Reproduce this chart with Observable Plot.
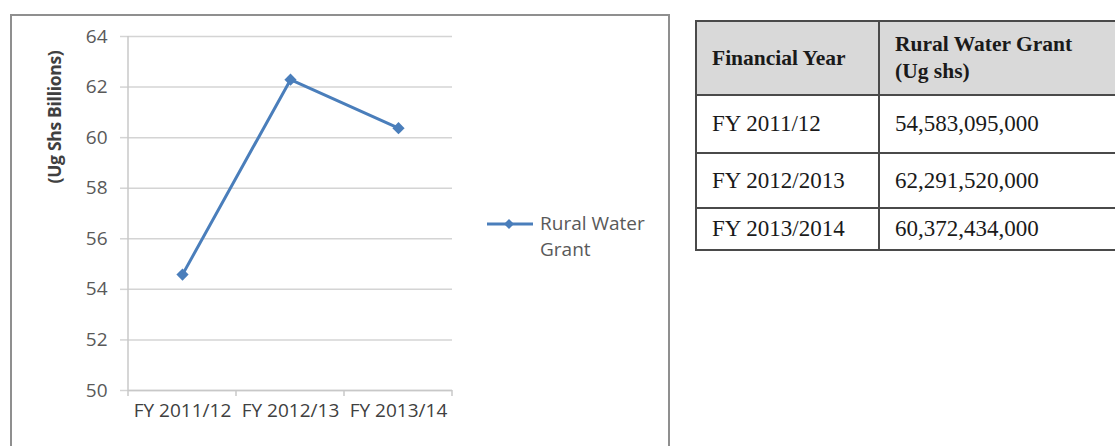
<!DOCTYPE html>
<html><head><meta charset="utf-8">
<script src="https://cdn.jsdelivr.net/npm/d3@7"></script>
<script src="https://cdn.jsdelivr.net/npm/@observablehq/plot@0.6"></script>
<style>
body{margin:0;background:#fff;width:1115px;height:446px;overflow:hidden;position:relative;font-family:"Open Sans",sans-serif}
#chart{position:absolute;left:10px;top:14px;width:656px;height:440px;border:2px solid #8f8f8f;border-bottom:none}
#chart svg{position:absolute;left:0;top:0}
#ytitle{position:absolute;left:42px;top:101px;transform:translate(-50%,-50%) rotate(-90deg);white-space:nowrap;font-weight:bold;font-size:17.5px;color:#404040;letter-spacing:-0.3px}
#legend{position:absolute;left:475px;top:195px;display:flex;align-items:flex-start;font-size:19px;color:#595959;line-height:26px}
#legend svg{position:static;margin-top:2px}
table{position:absolute;left:695px;top:20px;border-collapse:collapse;font-family:"Liberation Serif",serif;font-size:23px;color:#1a1a1a;table-layout:fixed;width:450px}
td,th{border:2px solid #4a4a4a;padding:0 0 0 15px;text-align:left;vertical-align:middle}
th{background:#d9d9d9;font-weight:bold;font-size:21.5px;line-height:27px;height:72px}
</style></head>
<body>
<div id="chart"><div id="ytitle">(Ug Shs Billions)</div>
<div id="legend"><svg width="48" height="22"><line x1="0" x2="46" y1="11" y2="11" stroke="#4a7ebb" stroke-width="3"/><polygon points="22,6 27,11 22,16 17,11" fill="#4a7ebb"/></svg><div style="margin-left:5px;margin-top:-1px">Rural Water<br>Grant</div></div>
</div>
<table id="tbl"><colgroup><col style="width:183px"><col></colgroup></table>
<script>
const years = ["FY 2011/12", "FY 2012/13", "FY 2013/14"];
const grant = [54.583095, 62.29152, 60.372434];
const yTicks = [50, 52, 54, 56, 58, 60, 62, 64];
const tableHeaders = ["Financial Year", "Rural Water Grant<br>(Ug shs)"];
const tableYears = ["FY 2011/12", "FY 2012/2013", "FY 2013/2014"];
const tableValues = ["54,583,095,000", "62,291,520,000", "60,372,434,000"];

const data = years.map((year, i) => ({year, value: grant[i]}));

const plot = Plot.plot({
  width: 656, height: 430,
  marginLeft: 116, marginRight: 216, marginTop: 20, marginBottom: 56,
  style: {fontFamily: '"Open Sans",sans-serif', background: "transparent", overflow: "visible"},
  x: {type: "point", domain: years, padding: 0.5, label: null},
  y: {domain: [50, 64], label: null},
  marks: [
    Plot.gridY(yTicks, {stroke: "#d4d4d4", strokeOpacity: 1, strokeWidth: 1.5}),
    Plot.axisY(yTicks, {tickSize: 8, tickPadding: 13, stroke: "#d4d4d4", strokeOpacity: 1, strokeWidth: 1.5, fill: "#595959", fontSize: 19, label: null}),
    Plot.axisX(years, {tickSize: 0, tickPadding: 13, fill: "#404040", fontSize: 19, label: null}),
    Plot.ruleY([50], {stroke: "#c8c8c8", strokeWidth: 1.5}),
    Plot.line(data, {x: "year", y: "value", stroke: "#4a7ebb", strokeWidth: 3}),
    Plot.dot(data, {x: "year", y: "value", symbol: "diamond2", r: 5.5, fill: "#4a7ebb", stroke: "none"})
  ]
});
document.getElementById("chart").appendChild(plot);

// Excel-style axis line and category boundary ticks, from the plot's scales
const xs = plot.scale("x"), ys = plot.scale("y");
const px = years.map(d => xs.apply(d));
const step = px[1] - px[0];
const bounds = [px[0] - step / 2, ...px.map(p => p + step / 2)];
const svg = d3.select(plot);
const y0 = ys.apply(50), y1 = ys.apply(64);
svg.append("line").attr("x1", bounds[0]).attr("x2", bounds[0]).attr("y1", y1).attr("y2", y0)
  .attr("stroke", "#c8c8c8").attr("stroke-width", 1.5);
svg.selectAll("line.bt").data(bounds).join("line").attr("class", "bt")
  .attr("x1", d => d).attr("x2", d => d).attr("y1", y0).attr("y2", y0 + 6)
  .attr("stroke", "#c8c8c8").attr("stroke-width", 1.5);

// Table
const tbl = d3.select("#tbl");
tbl.append("tr").selectAll("th").data(tableHeaders).join("th").html(d => d);
tableYears.forEach((y, i) => {
  tbl.append("tr").selectAll("td").data([y, tableValues[i]]).join("td").text(d => d);
});
const rows = tbl.selectAll("tr").nodes();
const rh = [null, 58, 55, 42];
rows.forEach((r, i) => { if (rh[i]) r.style.height = rh[i] + "px"; });
</script>
</body></html>
